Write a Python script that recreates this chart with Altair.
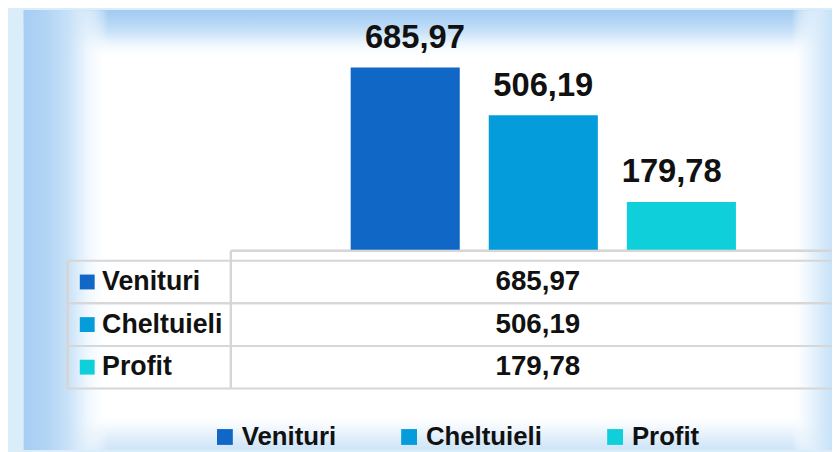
import altair as alt
import pandas as pd

series = ["Venituri", "Cheltuieli", "Profit"]
values = [685.97, 506.19, 179.78]
colors = ["#1167c6", "#049cda", "#0fd0da"]

df = pd.DataFrame({"series": series, "value": values})

FONT = "Liberation Sans"
GRID = "#d6d6d6"

color_enc = alt.Color(
    "series:N",
    scale=alt.Scale(domain=series, range=colors),
    legend=alt.Legend(
        orient="none", legendX=206, legendY=418, direction="horizontal",
        title=None, symbolType="square", symbolSize=256, symbolStrokeWidth=0,
        symbolOpacity=1, labelFont=FONT, labelFontWeight="bold", labelFontSize=26,
        labelColor="#111111", labelOffset=4, columnPadding=60, padding=0,
    ),
)
color_nolegend = alt.Color("series:N", scale=alt.Scale(domain=series, range=colors), legend=None)

xb = alt.X("series:N", scale=alt.Scale(domain=series, range=[346, 735], paddingInner=0.21, paddingOuter=0), axis=None)
yb = alt.Y("value:Q", scale=alt.Scale(domain=[0, 700], range=[242, 54.2]), axis=None)
yt = alt.Y("series:N", scale=alt.Scale(domain=series, range=[253, 382], paddingInner=0, paddingOuter=0), axis=None)

base = alt.Chart(df).transform_calculate(
    label="replace(format(datum.value, '.2f'), '.', ',')"
)

# background panel
panel = alt.Chart(df).mark_rect(fill="white").encode(
    x=alt.value(16), x2=alt.value(832), y=alt.value(0), y2=alt.value(444)
)
vgrad = alt.Chart(df).mark_rect(fill={
    "gradient": "linear", "x1": 0, "x2": 0, "y1": 0, "y2": 1,
    "stops": [
        {"offset": 0.0, "color": "#a2caf1"},
        {"offset": 0.02, "color": "#aed2f4"},
        {"offset": 0.05, "color": "rgba(200,225,248,0.7)"},
        {"offset": 0.08, "color": "rgba(235,245,253,0.35)"},
        {"offset": 0.11, "color": "rgba(255,255,255,0)"},
        {"offset": 0.92, "color": "rgba(255,255,255,0)"},
        {"offset": 1.0, "color": "rgba(205,228,248,0.9)"},
    ],
}).encode(x=alt.value(16), x2=alt.value(832), y=alt.value(0), y2=alt.value(444))
hgrad = alt.Chart(df).mark_rect(fill={
    "gradient": "linear", "x1": 0, "x2": 1, "y1": 0, "y2": 0,
    "stops": [
        {"offset": 0.0, "color": "#a6cdf3"},
        {"offset": 0.03, "color": "#b3d5f5"},
        {"offset": 0.055, "color": "rgba(200,225,248,0.7)"},
        {"offset": 0.08, "color": "rgba(235,245,253,0.35)"},
        {"offset": 0.105, "color": "rgba(255,255,255,0)"},
        {"offset": 0.95, "color": "rgba(255,255,255,0)"},
        {"offset": 1.0, "color": "rgba(200,226,248,0.95)"},
    ],
}).encode(x=alt.value(16), x2=alt.value(832), y=alt.value(0), y2=alt.value(444))

bars = base.mark_bar().encode(x=xb, y=yb, color=color_enc)
bar_labels = base.mark_text(
    font=FONT, fontWeight="bold", fontSize=33, baseline="alphabetic", dy=-20, color="#111111"
).encode(x=xb, y=yb, text="label:N")

axis_line = alt.Chart(df).mark_rule(color=GRID, strokeWidth=2).encode(
    x=alt.value(225), x2=alt.value(832), y=alt.value(243)
)

# data table
hlines_top = base.mark_rule(color=GRID, strokeWidth=2).encode(
    y=alt.Y("series:N", scale=alt.Scale(domain=series, range=[253, 382], paddingInner=0, paddingOuter=0), axis=None, bandPosition=0),
    x=alt.value(60), x2=alt.value(832),
)
hlines_bot = base.mark_rule(color=GRID, strokeWidth=2).encode(
    y=alt.Y("series:N", scale=alt.Scale(domain=series, range=[253, 382], paddingInner=0, paddingOuter=0), axis=None, bandPosition=1),
    x=alt.value(60), x2=alt.value(832),
)
vline1 = alt.Chart(df).mark_rule(color=GRID, strokeWidth=2).encode(
    x=alt.value(60), y=alt.value(253), y2=alt.value(382)
)
vline2 = alt.Chart(df).mark_rule(color=GRID, strokeWidth=2).encode(
    x=alt.value(225), y=alt.value(243), y2=alt.value(382)
)
row_squares = base.mark_square(size=225, opacity=1).encode(
    x=alt.value(80), y=yt, color=color_nolegend
)
row_labels = base.mark_text(
    font=FONT, fontWeight="bold", fontSize=27, align="left", baseline="middle", color="#111111"
).encode(x=alt.value(95), y=yt, text="series:N")
row_values = base.mark_text(
    font=FONT, fontWeight="bold", fontSize=28, align="center", baseline="middle", color="#111111"
).encode(x=alt.value(535), y=yt, text="label:N")

chart = alt.layer(
    panel, vgrad, hgrad, axis_line, bars, bar_labels,
    hlines_top, hlines_bot, vline1, vline2, row_squares, row_labels, row_values,
).resolve_scale(x="independent", y="independent").properties(
    width=832, height=444, padding=0, background="#dcedfa",
    autosize=alt.AutoSizeParams(type="none"),
).configure_view(stroke=None)

chart.save("out.html", embed_options={"renderer": "svg", "actions": False})
